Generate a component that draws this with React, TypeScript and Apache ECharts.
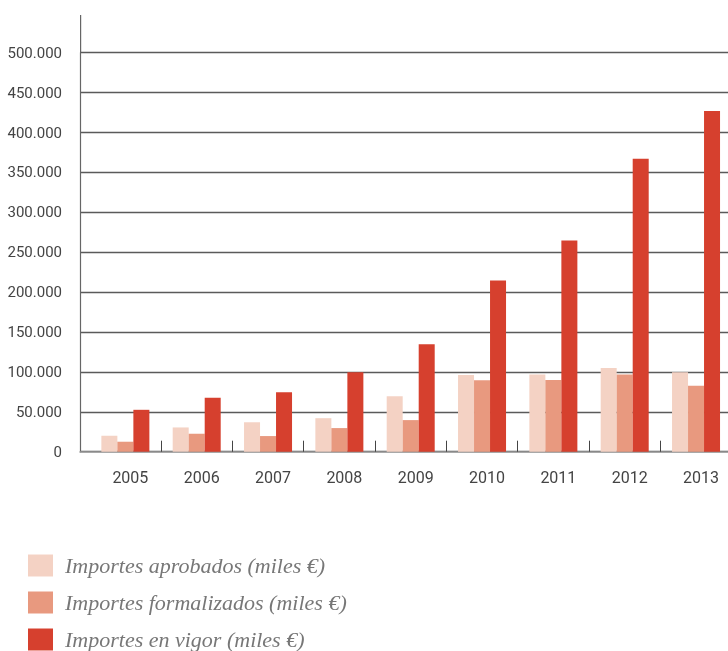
import { useEffect, useRef } from 'react';
import * as echarts from 'echarts';

const years = ['2005', '2006', '2007', '2008', '2009', '2010', '2011', '2012', '2013'];
const aprobados = [20000, 30400, 37000, 42000, 69600, 96000, 96600, 105000, 99600];
const formalizados = [12500, 22500, 19600, 29600, 39600, 89600, 90000, 96600, 82500];
const enVigor = [52500, 67500, 74600, 99600, 134600, 214600, 264600, 367000, 427000];
const seriesNames = [
  'Importes aprobados (miles €)',
  'Importes formalizados (miles €)',
  'Importes en vigor (miles €)',
];
const colors = ['#F4D2C4', '#E8997F', '#D6402E'];

const numFont = "Roboto, 'Liberation Sans', sans-serif";

export default function App() {
  const ref = useRef<HTMLDivElement>(null);
  useEffect(() => {
    if (!ref.current) return;
    const chart = echarts.init(ref.current, undefined, { renderer: 'svg' });
    const values = [aprobados, formalizados, enVigor];
    chart.setOption({
      animation: false,
      grid: [
        { left: 80, right: 0, top: 52.7, bottom: 199.3, containLabel: false, outerBoundsMode: 'none' },
        { left: 89.7, right: -3.7, top: 52.7, bottom: 199.3, containLabel: false, outerBoundsMode: 'none' },
      ],
      xAxis: [
        {
          type: 'value',
          gridIndex: 0,
          min: 0,
          max: 1,
          axisLine: { show: true, lineStyle: { color: '#9a9a9a', width: 1.6 } },
          axisTick: { show: false },
          axisLabel: { show: false },
          splitLine: { show: false },
        },
        {
          type: 'category',
          gridIndex: 1,
          data: years,
          axisLine: { show: false },
          axisTick: {
            show: true,
            inside: true,
            length: 11,
            interval: (i: number) => i !== 0,
            lineStyle: { color: '#444', width: 1 },
          },
          axisLabel: {
            color: '#444',
            fontSize: 16,
            fontFamily: numFont,
            margin: 18,
            padding: [0, 0, 0, 10],
          },
        },
      ],
      yAxis: [
        {
          type: 'value',
          gridIndex: 0,
          min: 0,
          max: 500000,
          interval: 50000,
          axisLine: { show: true, lineStyle: { color: '#666', width: 1.2 } },
          axisTick: { show: false },
          axisLabel: {
            color: '#444',
            fontSize: 15,
            fontFamily: numFont,
            margin: 18,
            formatter: (v: number) => (v === 0 ? '0' : `${v / 1000}.000`),
          },
          splitLine: { show: true, lineStyle: { color: '#5a5a5a', width: 1.3 } },
        },
        {
          type: 'value',
          gridIndex: 1,
          min: 0,
          max: 500000,
          interval: 50000,
          show: false,
          splitLine: { show: false },
        },
      ],
      legend: {
        orient: 'vertical',
        left: 28,
        top: 554.5,
        padding: 0,
        itemWidth: 25,
        itemHeight: 22,
        itemGap: 15,
        icon: 'rect',
        data: seriesNames,
        textStyle: {
          color: '#777',
          fontSize: 22,
          fontStyle: 'italic',
          fontFamily: "'Liberation Serif', 'DejaVu Serif', serif",
          padding: [0, 0, 0, 7],
        },
      },
      graphic: [
        {
          type: 'line',
          shape: { x1: 80.6, y1: 15, x2: 80.6, y2: 53 },
          style: { stroke: '#666', lineWidth: 1.2 },
        },
      ],
      series: seriesNames.map((name, i) => ({
        name,
        type: 'bar',
        xAxisIndex: 1,
        yAxisIndex: 1,
        data: values[i],
        barGap: '0%',
        barCategoryGap: '32.7%',
        itemStyle: { color: colors[i] },
      })),
    });
    return () => chart.dispose();
  }, []);
  return <div ref={ref} style={{ position: 'fixed', left: 0, top: 0, width: 728, height: 651 }} />;
}
